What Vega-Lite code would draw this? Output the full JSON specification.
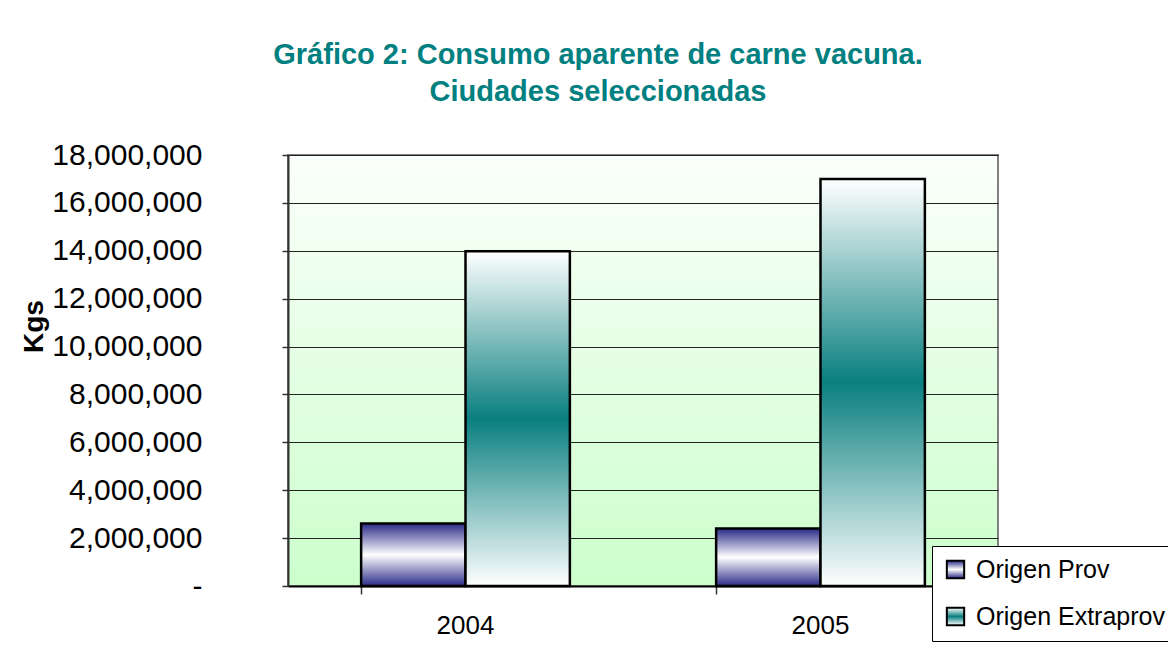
{
  "$schema": "https://vega.github.io/schema/vega-lite/v6.json",
  "autosize": {"type": "none"},
  "width": 710,
  "height": 431,
  "padding": {"left": 288, "top": 155, "right": 170, "bottom": 62},
  "background": "white",
  "title": {
    "text": ["Gráfico 2: Consumo aparente de carne vacuna.", "Ciudades seleccionadas"],
    "font": "Liberation Sans",
    "fontSize": 29,
    "fontWeight": "bold",
    "color": "#008080",
    "anchor": "middle",
    "frame": "group",
    "dx": -45,
    "lineHeight": 37,
    "offset": 33
  },
  "view": {
    "stroke": "#808080",
    "strokeWidth": 2,
    "fill": {"expr": "{gradient: 'linear', x1: 0, y1: 0, x2: 0, y2: 1, stops: [{offset: 0, color: '#fbfffb'}, {offset: 1, color: '#ccffcc'}]}"}
  },
  "data": {
    "values": [
      {"year": "2004", "series": "Origen Prov", "value": 2610000},
      {"year": "2004", "series": "Origen Extraprov", "value": 13980000},
      {"year": "2005", "series": "Origen Prov", "value": 2400000},
      {"year": "2005", "series": "Origen Extraprov", "value": 17000000}
    ]
  },
  "mark": {
    "type": "bar",
    "strokeWidth": 2.5,
    "fill": {"expr": "(datum.series || datum.value) == 'Origen Prov' ? {gradient: 'linear', x1: 0, y1: 0, x2: 0, y2: 1, stops: [{offset: 0, color: '#2a2a88'}, {offset: 0.5, color: '#ffffff'}, {offset: 1, color: '#2a2a88'}]} : {gradient: 'linear', x1: 0, y1: 0, x2: 0, y2: 1, stops: [{offset: 0, color: '#ffffff'}, {offset: 0.5, color: '#0a7f7f'}, {offset: 1, color: '#ffffff'}]}"}
  },
  "encoding": {
    "x": {
      "field": "year",
      "type": "nominal",
      "scale": {"paddingInner": 0.412, "paddingOuter": 0.206},
      "axis": {
        "title": null,
        "labelAngle": 0,
        "labelFont": "Liberation Sans",
        "labelFontSize": 26,
        "labelColor": "black",
        "labelPadding": 18,
        "bandPosition": 0,
        "tickSize": 8,
        "tickColor": "#333333",
        "tickWidth": 1.5,
        "domainColor": "black",
        "domainWidth": 2,
        "grid": false
      }
    },
    "xOffset": {
      "field": "series",
      "type": "nominal",
      "sort": ["Origen Prov", "Origen Extraprov"],
      "scale": {"paddingInner": 0, "paddingOuter": 0}
    },
    "y": {
      "field": "value",
      "type": "quantitative",
      "scale": {"domain": [0, 18000000], "nice": false},
      "axis": {
        "values": [0, 2000000, 4000000, 6000000, 8000000, 10000000, 12000000, 14000000, 16000000, 18000000],
        "labelExpr": "datum.value == 0 ? '-' : format(datum.value, ',')",
        "labelFont": "Liberation Sans",
        "labelFontSize": 30,
        "labelColor": "black",
        "labelPadding": 80,
        "tickSize": 6,
        "tickColor": "#333333",
        "tickWidth": 1.5,
        "domainColor": "#333333",
        "domainWidth": 2,
        "grid": true,
        "gridColor": "#222222",
        "gridWidth": 1,
        "gridOpacity": 1,
        "title": "Kgs",
        "titleFont": "Liberation Sans",
        "titleFontSize": 28,
        "titleFontWeight": "bold",
        "titleColor": "black",
        "titleAngle": 270,
        "titleAlign": "center",
        "titleBaseline": "alphabetic",
        "titleX": -246,
        "titleY": 171
      }
    },
    "stroke": {
      "field": "series",
      "type": "nominal",
      "scale": {
        "domain": ["Origen Prov", "Origen Extraprov"],
        "range": ["black", "black"]
      },
      "legend": {
        "title": null,
        "orient": "none",
        "legendX": 644,
        "legendY": 391,
        "fillColor": "white",
        "strokeColor": "black",
        "padding": 11,
        "rowPadding": 20,
        "symbolType": "square",
        "symbolSize": 300,
        "symbolStrokeWidth": 2,
        "labelFont": "Liberation Sans",
        "labelFontSize": 25,
        "labelColor": "black",
        "labelOffset": 8,
        "labelLimit": 400
      }
    }
  }
}
